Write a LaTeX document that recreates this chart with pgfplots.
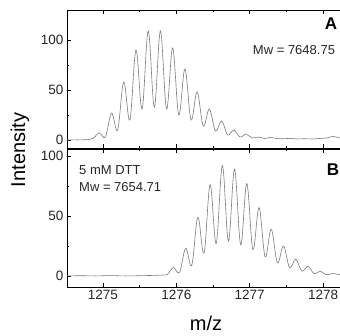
\documentclass[border=0pt]{standalone}
\usepackage{pgfplots}
\pgfplotsset{compat=1.18}
\usepackage{fontspec}
\setmainfont{Liberation Sans}
\pgfplotsset{panel/.style={
  scale only axis, width=273pt, height=138pt,
  xmin=1274.51, xmax=1278.23,
  xtick={1275,1276,1277,1278},
  minor xtick={1274.5,1275.5,1276.5,1277.5},
  ytick={0,50,100}, minor ytick={25,75},
  tick align=inside, xtick pos=both, ytick pos=left,
  major tick length=4pt, minor tick length=2pt,
  axis line style={line width=0.7pt},
  every tick/.style={black, line width=0.6pt},
  tick label style={font=\fontsize{13.5}{14}\selectfont, text=black!85},
  /pgf/number format/assume math mode=true,
  /pgf/number format/1000 sep={},
}}
\begin{document}
\begin{tikzpicture}
\useasboundingbox (-67pt,-188pt) rectangle (273pt,148pt);
\begin{axis}[panel, at={(0,0)}, anchor=south west, ymin=-8, ymax=130, xticklabels={}]
\addplot[black!52, line width=0.6pt, smooth, tension=0.6] coordinates {
(1274.51,0) (1274.65,0.2) (1274.78,0.3) (1274.867,1.8)
(1274.950,7) (1275.033,3)
(1275.117,27) (1275.200,10)
(1275.283,58) (1275.367,20)
(1275.450,90) (1275.533,31)
(1275.617,109) (1275.700,33)
(1275.783,109) (1275.867,31)
(1275.950,92) (1276.033,25)
(1276.117,71) (1276.200,20)
(1276.283,48) (1276.367,14)
(1276.450,31) (1276.533,9)
(1276.617,19) (1276.700,5)
(1276.783,10) (1276.867,3)
(1276.950,6) (1277.033,2)
(1277.117,3) (1277.200,1.5)
(1277.283,2.5) (1277.367,1.5) (1277.45,1.2) (1277.55,1.6) (1277.65,1.0)
(1277.75,1.3) (1277.85,1.0) (1277.95,1.5) (1278.05,2) (1278.13,3.5) (1278.23,2)
};
\end{axis}
\begin{axis}[panel, at={(0,-1pt)}, anchor=north west, ymin=-9.2, ymax=105.8]
\addplot[black!52, line width=0.6pt, smooth, tension=0.6] coordinates {
(1274.51,0) (1274.7,0.2) (1274.9,0) (1275.1,0.3) (1275.3,0) (1275.5,0.2)
(1275.7,0.5) (1275.80,0.8) (1275.877,1.2)
(1275.960,7) (1276.043,3)
(1276.127,23) (1276.210,9)
(1276.293,49) (1276.377,19)
(1276.460,76) (1276.543,27)
(1276.627,92) (1276.710,29)
(1276.793,89) (1276.877,26)
(1276.960,77) (1277.043,22)
(1277.127,57) (1277.210,16)
(1277.293,39) (1277.377,11)
(1277.460,25) (1277.543,7)
(1277.627,14) (1277.710,4)
(1277.793,8) (1277.877,2)
(1277.960,4) (1278.043,1)
(1278.127,2) (1278.23,1)
};
\end{axis}
\node[font=\bfseries\fontsize{17}{17}\selectfont] at (264pt,124pt) {A};
\node[font=\fontsize{13}{13}\selectfont, text=black!85] at (227pt,98pt) {Mw = 7648.75};
\node[font=\bfseries\fontsize{17}{17}\selectfont] at (266pt,-22pt) {B};
\node[font=\fontsize{13}{13}\selectfont, text=black!85, anchor=west, inner sep=0pt] at (12pt,-22pt) {5 mM DTT};
\node[font=\fontsize{13}{13}\selectfont, text=black!85, anchor=west, inner sep=0pt] at (12pt,-39pt) {Mw = 7654.71};
\node[font=\fontsize{20}{20}\selectfont, rotate=90] at (-47pt,-2pt) {Intensity};
\node[font=\fontsize{20}{20}\selectfont] at (139pt,-175pt) {m/z};
\end{tikzpicture}
\end{document}
